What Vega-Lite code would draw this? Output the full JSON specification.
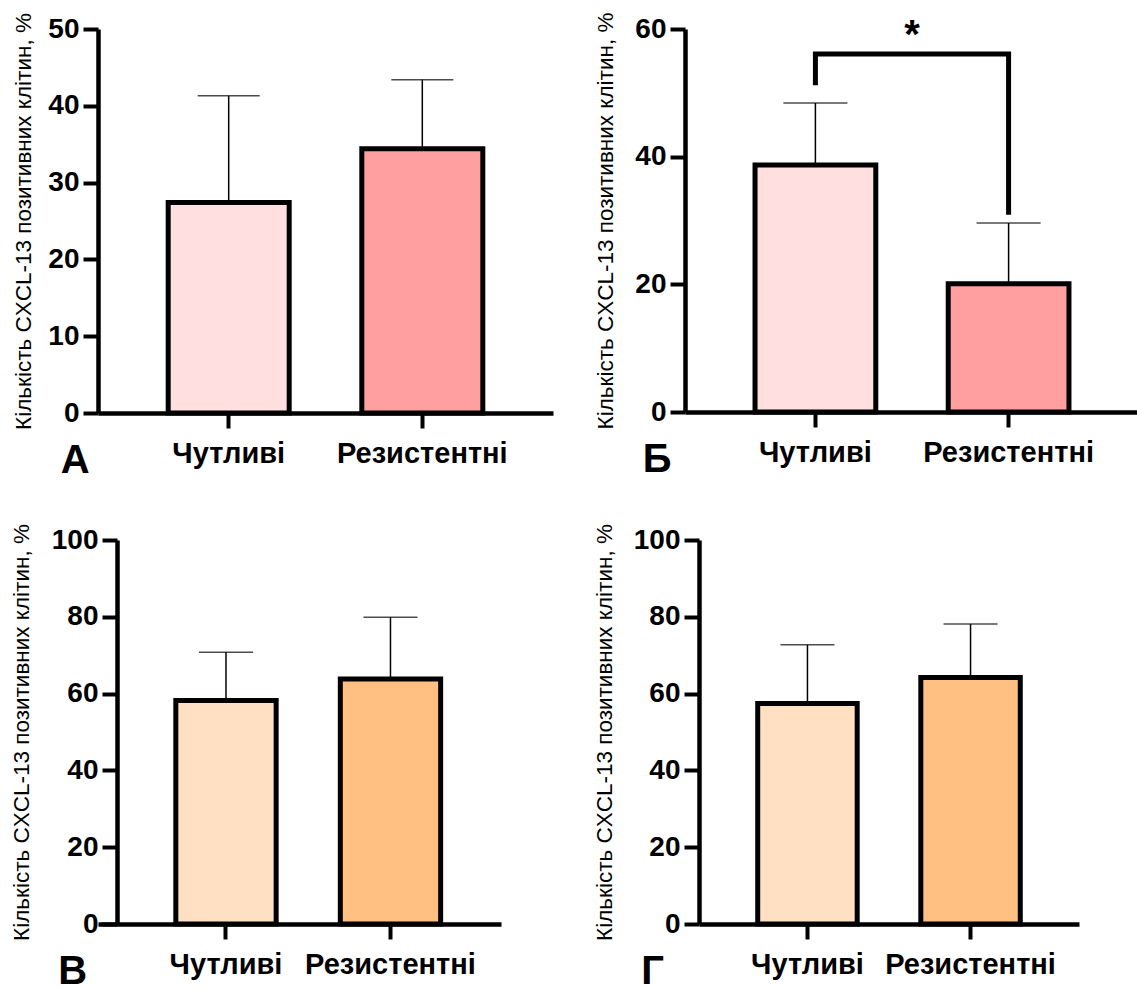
{
  "$schema": "https://vega.github.io/schema/vega-lite/v6.json",
  "background": "white",
  "padding": {"left": 10, "top": 12, "right": 0, "bottom": 0},
  "columns": 1,
  "spacing": 42,
  "align": "none",
  "resolve": {"scale": {"fill": "independent"}},
  "config": {
    "view": {"stroke": null},
    "axis": {
      "grid": false,
      "domainColor": "black", "domainWidth": 4.5,
      "tickColor": "black", "tickWidth": 4, "tickSize": 15,
      "labelFont": "Liberation Sans", "labelFontSize": 28, "labelFontWeight": "bold", "labelColor": "black",
      "titleFont": "Liberation Sans", "titleFontSize": 22.5, "titleFontWeight": "normal", "titleColor": "black"
    },
    "axisX": {"labelAngle": 0, "labelPadding": 11, "labelFontSize": 29},
    "axisY": {"labelPadding": 4, "titlePadding": 12},
    "title": {"font": "Liberation Sans", "fontSize": 40, "fontWeight": "bold", "color": "black", "orient": "bottom", "anchor": "start", "frame": "bounds", "dx": 48, "offset": -27}
  },
  "concat": [
    {
      "spacing": 41,
      "resolve": {"scale": {"fill": "independent"}},
      "hconcat": [
        {
          "width": 455, "height": 384,
          "title": "А",
          "data": {"values": [
            {"group": "Чутливі", "mean": 27.4, "upper": 41.3},
            {"group": "Резистентні", "mean": 34.4, "upper": 43.4}
          ]},
          "encoding": {"x": {"field": "group", "type": "nominal", "sort": ["Чутливі", "Резистентні"], "scale": {"paddingInner": 0, "paddingOuter": 0.175}, "axis": {"title": null}}},
          "layer": [
            {"mark": {"type": "rule", "strokeWidth": 1.5, "color": "black"},
             "encoding": {"y": {"field": "mean", "type": "quantitative", "title": "Кількість CXCL-13 позитивних клітин, %", "scale": {"domain": [0, 50], "nice": false}, "axis": {"values": [0, 10, 20, 30, 40, 50]}}, "y2": {"field": "upper"}}},
            {"mark": {"type": "tick", "thickness": 1.5, "size": 62, "color": "black"},
             "encoding": {"y": {"field": "upper", "type": "quantitative", "title": "Кількість CXCL-13 позитивних клітин, %", "scale": {"domain": [0, 50], "nice": false}}}},
            {"mark": {"type": "bar", "width": {"band": 0.625}, "stroke": "black", "strokeWidth": 5},
             "encoding": {"y": {"field": "mean", "type": "quantitative", "title": "Кількість CXCL-13 позитивних клітин, %", "scale": {"domain": [0, 50], "nice": false}},
                          "fill": {"field": "group", "type": "nominal", "scale": {"domain": ["Чутливі", "Резистентні"], "range": ["#FFDFDF", "#FF9F9F"]}, "legend": null}}}
          ]
        },
        {
          "width": 454, "height": 383,
          "title": "Б",
          "data": {"values": [
            {"group": "Чутливі", "mean": 38.7, "upper": 48.4},
            {"group": "Резистентні", "mean": 20.1, "upper": 29.6}
          ]},
          "encoding": {"x": {"field": "group", "type": "nominal", "sort": ["Чутливі", "Резистентні"], "scale": {"paddingInner": 0, "paddingOuter": 0.175}, "axis": {"title": null}}},
          "layer": [
            {"mark": {"type": "rule", "strokeWidth": 1.5, "color": "black"},
             "encoding": {"y": {"field": "mean", "type": "quantitative", "title": "Кількість CXCL-13 позитивних клітин, %", "scale": {"domain": [0, 60], "nice": false}, "axis": {"values": [0, 20, 40, 60], "titlePadding": 17}}, "y2": {"field": "upper"}}},
            {"mark": {"type": "tick", "thickness": 1.5, "size": 64, "color": "black"},
             "encoding": {"y": {"field": "upper", "type": "quantitative", "title": "Кількість CXCL-13 позитивних клітин, %", "scale": {"domain": [0, 60], "nice": false}}}},
            {"mark": {"type": "bar", "width": {"band": 0.625}, "stroke": "black", "strokeWidth": 5},
             "encoding": {"y": {"field": "mean", "type": "quantitative", "title": "Кількість CXCL-13 позитивних клітин, %", "scale": {"domain": [0, 60], "nice": false}},
                          "fill": {"field": "group", "type": "nominal", "scale": {"domain": ["Чутливі", "Резистентні"], "range": ["#FFDFDF", "#FF9F9F"]}, "legend": null}}},
            {"data": {"values": [
              {"group": "Чутливі", "val": 51.2, "ord": 1},
              {"group": "Чутливі", "val": 56.1, "ord": 2},
              {"group": "Резистентні", "val": 56.1, "ord": 3},
              {"group": "Резистентні", "val": 30.9, "ord": 4}
            ]},
             "mark": {"type": "line", "color": "black", "strokeWidth": 5, "strokeCap": "butt", "strokeJoin": "miter"},
             "encoding": {"y": {"field": "val", "type": "quantitative", "title": "Кількість CXCL-13 позитивних клітин, %", "scale": {"domain": [0, 60], "nice": false}}, "order": {"field": "ord", "type": "quantitative"}}},
            {"data": {"values": [{"group": "Чутливі", "val": 57.1, "label": "*"}]},
             "mark": {"type": "text", "font": "Liberation Sans", "fontSize": 40, "fontWeight": "bold", "color": "black", "baseline": "alphabetic", "align": "center"},
             "encoding": {"x": {"field": "group", "type": "nominal", "bandPosition": 1, "sort": ["Чутливі", "Резистентні"]},
                          "y": {"field": "val", "type": "quantitative", "title": "Кількість CXCL-13 позитивних клітин, %", "scale": {"domain": [0, 60], "nice": false}},
                          "text": {"field": "label"}}}
          ]
        }
      ]
    },
    {
      "spacing": 92,
      "resolve": {"scale": {"fill": "independent"}},
      "hconcat": [
        {
          "width": 403, "height": 384,
          "title": "В",
          "data": {"values": [
            {"group": "Чутливі", "mean": 58.2, "upper": 70.8},
            {"group": "Резистентні", "mean": 63.8, "upper": 79.9}
          ]},
          "encoding": {"x": {"field": "group", "type": "nominal", "sort": ["Чутливі", "Резистентні"], "scale": {"paddingInner": 0, "paddingOuter": 0.225, "align": 0.618}, "axis": {"title": null}}},
          "layer": [
            {"mark": {"type": "rule", "strokeWidth": 1.5, "color": "black"},
             "encoding": {"y": {"field": "mean", "type": "quantitative", "title": "Кількість CXCL-13 позитивних клітин, %", "scale": {"domain": [0, 100], "nice": false}, "axis": {"values": [0, 20, 40, 60, 80, 100], "offset": -19, "titlePadding": 18}}, "y2": {"field": "upper"}}},
            {"mark": {"type": "tick", "thickness": 1.5, "size": 54, "color": "black"},
             "encoding": {"y": {"field": "upper", "type": "quantitative", "title": "Кількість CXCL-13 позитивних клітин, %", "scale": {"domain": [0, 100], "nice": false}}}},
            {"mark": {"type": "bar", "width": {"band": 0.61}, "stroke": "black", "strokeWidth": 5},
             "encoding": {"y": {"field": "mean", "type": "quantitative", "title": "Кількість CXCL-13 позитивних клітин, %", "scale": {"domain": [0, 100], "nice": false}},
                          "fill": {"field": "group", "type": "nominal", "scale": {"domain": ["Чутливі", "Резистентні"], "range": ["#FFE0C2", "#FFC081"]}, "legend": null}}}
          ]
        },
        {
          "width": 380, "height": 384,
          "title": "Г",
          "data": {"values": [
            {"group": "Чутливі", "mean": 57.4, "upper": 72.7},
            {"group": "Резистентні", "mean": 64.2, "upper": 78.1}
          ]},
          "encoding": {"x": {"field": "group", "type": "nominal", "sort": ["Чутливі", "Резистентні"], "scale": {"paddingInner": 0, "paddingOuter": 0.165}, "axis": {"title": null}}},
          "layer": [
            {"mark": {"type": "rule", "strokeWidth": 1.5, "color": "black"},
             "encoding": {"y": {"field": "mean", "type": "quantitative", "title": "Кількість CXCL-13 позитивних клітин, %", "scale": {"domain": [0, 100], "nice": false}, "axis": {"values": [0, 20, 40, 60, 80, 100], "titlePadding": 17}}, "y2": {"field": "upper"}}},
            {"mark": {"type": "tick", "thickness": 1.5, "size": 54, "color": "black"},
             "encoding": {"y": {"field": "upper", "type": "quantitative", "title": "Кількість CXCL-13 позитивних клітин, %", "scale": {"domain": [0, 100], "nice": false}}}},
            {"mark": {"type": "bar", "width": {"band": 0.61}, "stroke": "black", "strokeWidth": 5},
             "encoding": {"y": {"field": "mean", "type": "quantitative", "title": "Кількість CXCL-13 позитивних клітин, %", "scale": {"domain": [0, 100], "nice": false}},
                          "fill": {"field": "group", "type": "nominal", "scale": {"domain": ["Чутливі", "Резистентні"], "range": ["#FFE0C2", "#FFC081"]}, "legend": null}}}
          ]
        }
      ]
    }
  ]
}
